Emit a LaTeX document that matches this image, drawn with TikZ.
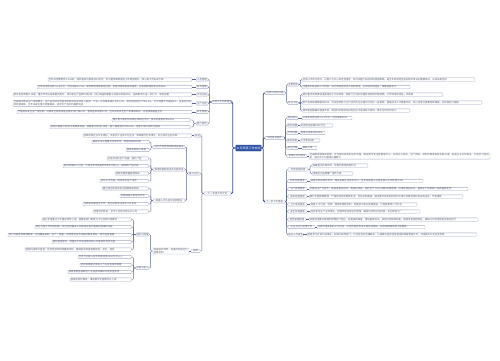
\documentclass[tikz,border=0pt]{standalone}
\usepackage{fontspec}
\newfontfamily\cjk{Noto Sans CJK SC}
\XeTeXlinebreaklocale "zh"
\XeTeXlinebreakskip=0pt plus 0.5pt
\definecolor{bdcol}{HTML}{A3ABC9}
\definecolor{lncol}{HTML}{5A6699}
\definecolor{mncol}{HTML}{3B4A88}
\definecolor{txcol}{HTML}{5E6272}
\definecolor{cfill}{HTML}{2E54A6}
\tikzset{
  leaf/.style={draw=bdcol, line width=0.3pt, rounded corners=0.7pt, fill=white,
    inner xsep=0.8pt, inner ysep=0.5pt, text=txcol, align=left,
    font={\cjk\fontsize{2.4pt}{2.9pt}\selectfont}},
  lbl/.style={draw=bdcol, line width=0.3pt, rounded corners=0.7pt, fill=white,
    inner xsep=0.5pt, inner ysep=0.5pt, text=txcol,
    font={\cjk\fontsize{2.4pt}{2.9pt}\selectfont}},
  centre/.style={draw=mncol, line width=0.4pt, rounded corners=0.6pt, fill=cfill,
    text=white, inner sep=0.6pt, minimum width=25pt, minimum height=6pt,
    font={\cjk\fontsize{3pt}{3.5pt}\selectfont}},
  conn/.style={draw=lncol, line width=0.45pt, rounded corners=1pt},
  mainconn/.style={draw=mncol, line width=0.8pt, rounded corners=1.2pt}
}
\newcommand\leafnode[5]{%
  \pgfmathsetmacro\mmw{#3-#2-1.6}%
  \pgfmathsetmacro\mmx{(#2+#3)/2}%
  \node[leaf, text width=\mmw pt] (#1) at (\mmx,#4) {#5};}
\newcommand\lab[5]{%
  \pgfmathsetmacro\mmw{#3-#2}%
  \pgfmathsetmacro\mmx{(#2+#3)/2}%
  \node[lbl, minimum width=\mmw pt] (#1) at (\mmx,#4) {#5};}
\newcommand\conL[3]{\draw[conn] (#1.west) -- ++(-#3,0) |- (#2.east);}
\newcommand\conR[3]{\draw[conn] (#1.east) -- ++(#3,0) |- (#2.west);}
\newcommand\dirL[2]{\draw[conn] (#1.west) -- (#2.east);}
\newcommand\dirR[2]{\draw[conn] (#1.east) -- (#2.west);}
\begin{document}
\begin{tikzpicture}[x=1pt,y=-1pt]
\fill[white] (0,0) rectangle (500,360);
\useasboundingbox (0,0) rectangle (500,360);

% centre and main branches
\node[centre] (C) at (248.5,148) {公司年度工作总结};
\lab{L1}{212}{232}{102}{年度工作完成情况}
\lab{L2}{204}{231}{193.5}{下一年度工作计划}
\lab{R1}{265}{285}{93}{经验与存在问题}
\lab{R2}{265}{284}{138}{年度目标指标}
\lab{R3}{264}{285}{201.5}{下一步工作措施}

% L1 children
\lab{a1}{196}{208}{79.5}{人员管理}
\lab{a2}{196}{208}{87}{财务管理}
\lab{a3}{196}{208}{94.5}{市场开拓}
\lab{a4}{196}{208}{103.5}{生产运营}
\lab{a5}{196}{208}{112}{安全管理}
\lab{a6}{196}{208}{123.5}{客户服务}
\leafnode{a1l}{48}{192}{79.5}{全年共招聘新员工126名，组织各类内部培训32场次，员工整体满意度较上年明显提升，核心骨干流失率下降}
\leafnode{a2l}{37}{192}{87}{全年实现营业收入3.6亿元，同比增长15.2\%，成本费用得到有效控制，资金周转效率持续提高，应收账款回收率达到96\%}
\leafnode{a3l}{13}{192}{94.5}{新开发区域客户48家，重点市场占有率稳步提升，成功举办产品推介会6场，线上渠道销售额占比首次突破30\%，品牌影响力进一步扩大，成效显著}
\leafnode{a4l}{13}{192}{103.5}{全面推行精益生产管理模式，生产线自动化改造项目顺利完成并投入使用，产品一次合格率提升至98.5\%，单位能耗同比下降6.3\%，交付周期平均缩短3天，设备综合效率显著提高，全年未发生重大质量事故，各项生产指标均超额完成}
\leafnode{a5l}{17}{192}{112}{严格落实安全生产责任制，开展安全隐患排查治理专项行动12次，整改各类隐患87项，全年实现安全生产零事故目标，应急演练覆盖全员}
\leafnode{a6l1}{112}{190}{120}{建立客户服务热线及在线响应平台，投诉处理及时率100\%}
\leafnode{a6l2}{50}{190}{127}{定期开展客户回访与满意度调查，收集意见建议215条，客户满意度达到95.6\%，老客户续约率同比提高}

% L2 children
\lab{b1}{194}{201}{135.5}{其他}
\leafnode{b1l}{83}{192}{135.5}{持续加强企业文化建设，丰富员工业余文化生活，积极履行社会责任，树立良好企业形象}
\lab{b2}{188}{200}{173.5}{重点任务}
\lab{bA}{153}{185}{147}{深化市场营销网络体系建设}
\leafnode{bA1}{92}{149.5}{142}{拓展华东华南重点区域市场，新增经销商30家}
\leafnode{bA2}{126}{149.5}{150}{加快布局线上渠道}
\lab{bB}{153}{185}{169.5}{推进智能制造技术升级改造}
\leafnode{bB1}{107}{148.5}{158.5}{引进自动化生产设备，提升产能}
\leafnode{bB2}{63}{148.5}{166}{加大研发投入力度，力争全年申请发明专利10项以上，推动新产品开发}
\leafnode{bB3}{115}{148.5}{173.5}{持续完善质量管理体系}
\leafnode{bB4}{100}{148.5}{181}{优化工艺流程，降低单位生产成本}
\lab{bC}{153}{185}{200.5}{加强人才队伍与组织建设}
\leafnode{bC1}{102}{148.5}{188.5}{建立健全绩效考核与薪酬激励机制}
\leafnode{bC2}{120}{148.5}{196}{实施储备干部培养计划}
\leafnode{bC3}{83}{148.5}{204}{与高校开展校企合作，定向培养专业技术人才队伍}
\leafnode{bC4}{93}{148.5}{211.5}{完善培训体系，全年人均培训时长40小时}
\lab{b3}{191}{200}{251}{保障}
\leafnode{bF}{153}{189}{251}{加强组织领导，完善风险防控与监督机制}
\lab{bD}{136}{149}{234.5}{组织与制度}
\leafnode{bD1}{42}{131.5}{219.5}{成立年度重点工作推进领导小组，明确各部门职责分工与完成时限要求}
\leafnode{bD2}{35}{131.5}{227}{建立月度工作例会制度，及时协调解决工作推进过程中遇到的困难和问题}
\leafnode{bD3}{8}{131.5}{235}{修订完善各项管理制度，形成覆盖采购、生产、销售、财务等全业务流程的制度体系，规范运营管理}
\leafnode{bD4}{52}{131.5}{242}{强化督查督办，将重点工作完成情况纳入年度绩效考核范围}
\leafnode{bD5}{25}{131.5}{249.5}{加强内部审计监督，防范经营风险和廉政风险，确保各项资金使用规范、安全、高效}
\lab{bE}{136}{149}{268}{资源与投入}
\leafnode{bE1}{78}{131.5}{257}{全年计划投入技术改造资金4500万元以上}
\leafnode{bE2}{80}{131.5}{265}{优先保障重点项目人力与资金需求配置}
\leafnode{bE3}{68}{131.5}{272}{积极争取各级政府产业扶持政策和专项资金支持}
\leafnode{bE4}{70}{131.5}{279.5}{加强信息化建设，推进数字化管理平台上线}

% R1 children
\lab{r1a}{288}{298}{84.5}{主要经验}
\leafnode{r1a1}{302}{475}{79.5}{坚持以市场为导向、以客户为中心的经营理念，及时调整产品结构和营销策略，是全年各项经营指标稳步增长的重要保证，必须长期坚持}
\leafnode{r1a2}{302}{410}{87}{注重团队建设和人才培养，充分调动全体员工的积极性、主动性和创造性，凝聚发展合力}
\lab{r1b}{288}{298}{103}{存在不足}
\leafnode{r1b1}{302}{443}{94.5}{部分重点项目推进进度滞后于计划安排，跨部门之间的沟通协调机制不够顺畅，工作效率有待进一步提高}
\leafnode{r1b2}{302}{482}{102.5}{新产品研发周期相对较长，科技创新能力与行业领先企业相比仍存在一定差距，高端技术人才储备不足，核心竞争力需要持续增强，抗风险能力偏弱}
\leafnode{r1b3}{302}{410}{110.5}{成本管控精细化程度不高，原材料价格波动对利润水平造成较大影响，降本空间仍然较大}

% R2 children
\lab{r2a}{287}{298}{118}{营业收入}
\lab{r2b}{287}{298}{125.5}{利润总额}
\lab{r2c}{287}{298}{133}{市场份额}
\lab{r2d}{287}{298}{140.5}{新品研发}
\lab{r2e}{287}{298}{148}{安全环保}
\lab{r2f}{287}{307}{156}{管理与文化建设}
\leafnode{r2a1}{302}{352}{118}{力争实现营业收入4.2亿元，同比增长16\%}
\leafnode{r2b1}{300}{333}{125.5}{实现利润总额5800万元}
\leafnode{r2c1}{300}{325}{133}{区域占有率达到25\%}
\leafnode{r2d1}{300}{320}{140.5}{上市新品8款}
\leafnode{r2e1}{302}{317}{148}{事故为零}
\leafnode{r2f1}{309}{490}{156}{全面推进精细化管理，优化组织架构和业务流程，建设数字化运营管理平台，实现办公协同、生产调度、财务核算等系统互联互通；加强企业文化建设，打造学习型组织，提升员工归属感与凝聚力}

% R3 children
\lab{r3a}{288}{308}{169.5}{市场营销措施}
\leafnode{r3a1}{312}{368}{165.5}{深耕重点区域市场，培育优质经销商队伍}
\leafnode{r3a2}{312}{353}{173.5}{持续加大品牌推广宣传力度}
\lab{r3b}{288}{307}{181}{技术创新措施}
\leafnode{r3b1}{310}{423}{181}{加强与科研院所合作，建设省级企业技术中心，全年研发投入占营业收入比例不低于4\%}
\lab{r3c}{288}{307}{189}{生产管理措施}
\leafnode{r3c1}{309}{468}{189}{以精益生产为抓手，推进设备自动化、智能化改造，强化生产计划与物料统筹管理，压缩在制品库存，提高生产效率和产品质量稳定性}
\lab{r3d}{288}{307}{196.5}{成本控制措施}
\leafnode{r3d1}{309}{463}{196.5}{推行全面预算管理，严格控制各项费用支出，优化采购渠道，通过集中采购和招标比价等方式降低原材料采购成本，节能降耗}
\lab{r3e}{288}{307}{204.5}{人才培养措施}
\leafnode{r3e1}{310}{417}{204.5}{完善人才引进、培养、使用和激励机制，畅通员工职业发展通道，打造高素质人才队伍}
\lab{r3f}{288}{307}{211.5}{安全环保措施}
\leafnode{r3f1}{310}{420}{211.5}{压实安全生产主体责任，加强环保设施运行管理，确保污染物达标排放，争创绿色工厂}
\lab{r3g}{288}{306}{219.5}{财务管理措施}
\leafnode{r3g1}{309}{478}{219.5}{加强资金集中管理和预算执行监控，拓宽融资渠道，降低融资成本，加快应收账款回笼，提高资金使用效益，确保公司资金链安全稳定运行}
\lab{r3h}{288}{315}{227}{企业文化与党建工作}
\leafnode{r3h1}{317}{425}{227}{开展丰富多彩的文化活动，评选年度优秀员工和先进集体，弘扬劳模精神和工匠精神}
\lab{r3i}{288}{303}{234.5}{其他工作措施}
\leafnode{r3i1}{307}{477}{234.5}{积极参与社会公益事业，加强与政府部门、行业协会的沟通联系，认真做好各类信息报送和档案管理工作，持续提升公司社会形象}

% main connectors
\foreach \t in {L1,L2}{\draw[mainconn] (C.west) -- ++(-3,0) |- (\t.east);}
\foreach \t in {R1,R2,R3}{\draw[mainconn] (C.east) -- ++(2,0) |- (\t.west);}

% left connectors
\foreach \t in {a1,a2,a3,a4,a5,a6}{\conL{L1}{\t}{2.5}}
\foreach \t in {a1,a2,a3,a4,a5}{\dirL{\t}{\t l}}
\conL{a6}{a6l1}{2.5}\conL{a6}{a6l2}{2.5}
\foreach \t in {b1,b2,b3}{\conL{L2}{\t}{2}}
\dirL{b1}{b1l}
\foreach \t in {bA,bB,bC}{\conL{b2}{\t}{1.3}}
\foreach \t in {bA1,bA2}{\conL{bA}{\t}{2}}
\foreach \t in {bB1,bB2,bB3,bB4}{\conL{bB}{\t}{2}}
\foreach \t in {bC1,bC2,bC3,bC4}{\conL{bC}{\t}{2}}
\dirL{b3}{bF}
\conL{bF}{bD}{2.2}\conL{bF}{bE}{2.2}
\foreach \t in {bD1,bD2,bD3,bD4,bD5}{\conL{bD}{\t}{2.5}}
\foreach \t in {bE1,bE2,bE3,bE4}{\conL{bE}{\t}{2.5}}

% right connectors
\conR{R1}{r1a}{1.5}\conR{R1}{r1b}{1.5}
\conR{r1a}{r1a1}{2}\conR{r1a}{r1a2}{2}
\foreach \t in {r1b1,r1b2,r1b3}{\conR{r1b}{\t}{2}}
\foreach \t in {r2a,r2b,r2c,r2d,r2e,r2f}{\conR{R2}{\t}{1.5}\dirR{\t}{\t1}}
\foreach \t in {r3a,r3b,r3c,r3d,r3e,r3f,r3g,r3h,r3i}{\conR{R3}{\t}{1.5}}
\conR{r3a}{r3a1}{2}\conR{r3a}{r3a2}{2}
\foreach \t in {r3b,r3c,r3d,r3e,r3f,r3g,r3h,r3i}{\dirR{\t}{\t1}}
\end{tikzpicture}
\end{document}
